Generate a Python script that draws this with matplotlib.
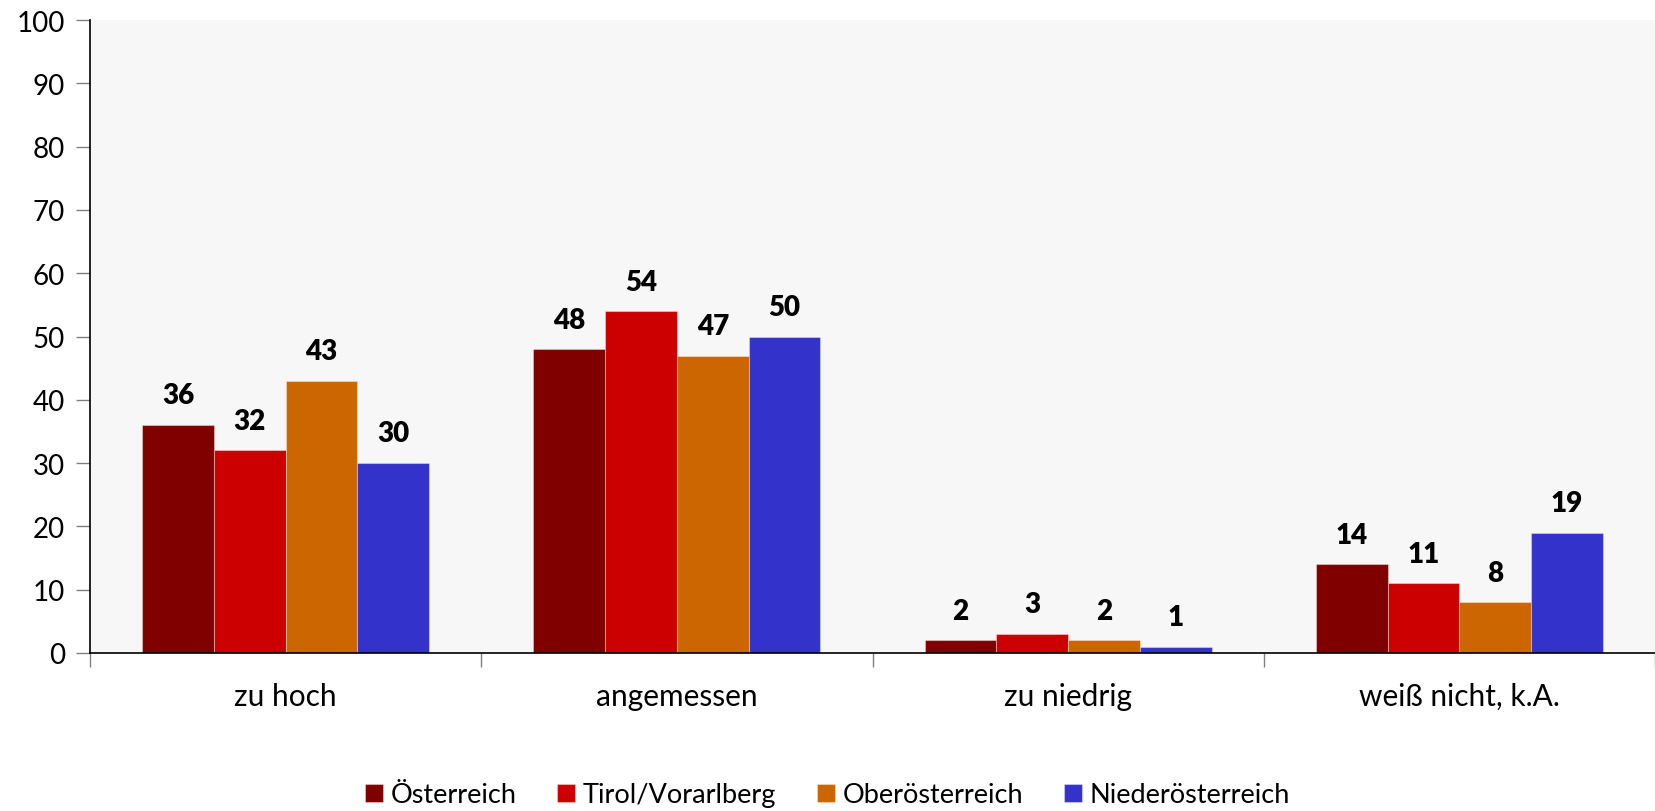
import matplotlib
matplotlib.use("Agg")
import matplotlib.pyplot as plt
import numpy as np

plt.rcParams['font.family'] = ['Lato', 'DejaVu Sans']

categories = ["zu hoch", "angemessen", "zu niedrig", "weiß nicht, k.A."]
series_names = ["Österreich", "Tirol/Vorarlberg", "Oberösterreich", "Niederösterreich"]
oesterreich = [36, 48, 2, 14]
tirol_vorarlberg = [32, 54, 3, 11]
oberoesterreich = [43, 47, 2, 8]
niederoesterreich = [30, 50, 1, 19]
colors = ["#800000", "#CC0000", "#CC6600", "#3333CC"]
y_ticks = [0, 10, 20, 30, 40, 50, 60, 70, 80, 90, 100]

series = [oesterreich, tirol_vorarlberg, oberoesterreich, niederoesterreich]

fig = plt.figure(figsize=(16.55, 8.12), dpi=100)
ax = fig.add_axes([0.0544, 0.1946, 0.9456, 0.7794])
ax.set_facecolor("#F7F7F7")

x = np.arange(len(categories))
bw = 0.1835
offsets = (np.arange(len(series)) - (len(series) - 1) / 2) * bw
for vals, col, name, off in zip(series, colors, series_names, offsets):
    bars = ax.bar(x + off, vals, width=bw, color=col, label=name,
                  edgecolor=(1, 1, 1, 0.35), linewidth=0.8, zorder=2)
    for rect, v in zip(bars, vals):
        ax.annotate(str(v), (rect.get_x() + rect.get_width() / 2, v),
                    xytext=(0, 12), textcoords="offset points",
                    ha="center", va="bottom", fontsize=20, fontweight="heavy",
                    color="black")

ax.set_xlim(-0.5, len(categories) - 0.5)
ax.set_ylim(0, 100)
ax.set_yticks(y_ticks)
ax.tick_params(axis="y", labelsize=20, length=10, width=1, color="#808080",
               direction="out", pad=8)

# category boundaries as tick marks, labels in the middle
ax.set_xticks(np.arange(len(categories) + 1) - 0.5)
ax.set_xticklabels([])
ax.set_xticks(x, minor=True)
ax.set_xticklabels(categories, minor=True, fontsize=21.5)
ax.tick_params(axis="x", which="major", length=10, width=1, color="#808080",
               direction="out")
ax.tick_params(axis="x", which="minor", length=0, pad=21)

for side in ("top", "right"):
    ax.spines[side].set_visible(False)
ax.spines["left"].set_color("black")
ax.spines["bottom"].set_color("black")
ax.spines["left"].set_linewidth(1.2)
ax.spines["bottom"].set_linewidth(1.2)

fig.legend(loc="center", bbox_to_anchor=(0.5, 0.02), ncol=4, frameon=False,
           fontsize=19.5, handlelength=0.65, handleheight=0.65, handletextpad=0.3,
           columnspacing=1.5)

fig.savefig("out.png", dpi=100, facecolor="white")
